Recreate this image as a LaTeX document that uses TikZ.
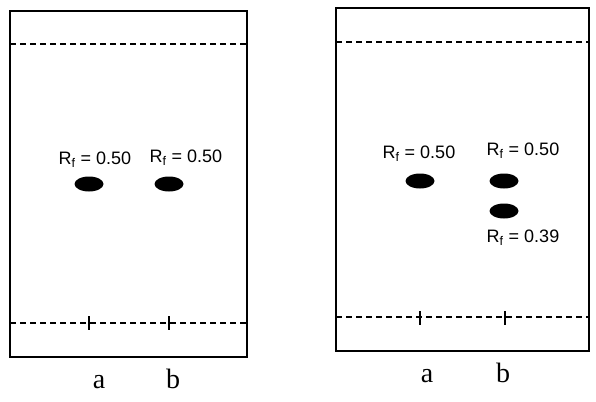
\documentclass[tikz,border=0pt]{standalone}
\usepackage{fontspec}
\setmainfont{Liberation Serif}
\setsansfont{Liberation Sans}
\usetikzlibrary{shapes.geometric}

\begin{document}
\begin{tikzpicture}[x=1pt,y=-1pt,
        plate/.style={draw,line width=2.3pt},
        front/.style={line width=2pt,dash pattern=on 6pt off 4pt},
        tick/.style={line width=2pt},
        spot/.style={ellipse,fill=black,minimum width=29pt,minimum height=15pt,inner sep=0pt},
        rf/.style={anchor=base,font=\fontsize{18}{20}\sffamily\selectfont},
        lane/.style={anchor=base,font=\fontsize{28}{30}\selectfont}]
  \useasboundingbox (0,0) rectangle (596,401);
  % left plate
  \draw[plate] (10,11) rectangle (247,357);
  \draw[front] (10,44) -- (247,44);
  \draw[front] (10,323) -- (247,323);
  \draw[tick] (89,316) -- (89,330);
  \draw[tick] (169,316) -- (169,330);
  \node[spot] (la) at (89,184) {};
  \node[spot] (lb) at (169,184) {};
  \node[rf] (rla) at (95,164) {R\textsubscript{f} = 0.50};
  \node[rf] (rlb) at (186,162) {R\textsubscript{f} = 0.50};
  \node[lane] (a1) at (99,388) {a};
  \node[lane] (b1) at (173,388) {b};
  % right plate
  \draw[plate] (336,8) rectangle (589,351);
  \draw[front] (336,42) -- (589,42);
  \draw[front] (336,317) -- (589,317);
  \draw[tick] (420,311) -- (420,325);
  \draw[tick] (505,311) -- (505,325);
  \node[spot] (ra) at (420,181) {};
  \node[spot] (rb) at (504,181) {};
  \node[spot] (rc) at (504,211) {};
  \node[rf] (rra) at (419,158) {R\textsubscript{f} = 0.50};
  \node[rf] (rrb) at (523,155) {R\textsubscript{f} = 0.50};
  \node[rf] (rrc) at (523,242) {R\textsubscript{f} = 0.39};
  \node[lane] (a2) at (427,382) {a};
  \node[lane] (b2) at (503,382) {b};
\end{tikzpicture}
\end{document}
